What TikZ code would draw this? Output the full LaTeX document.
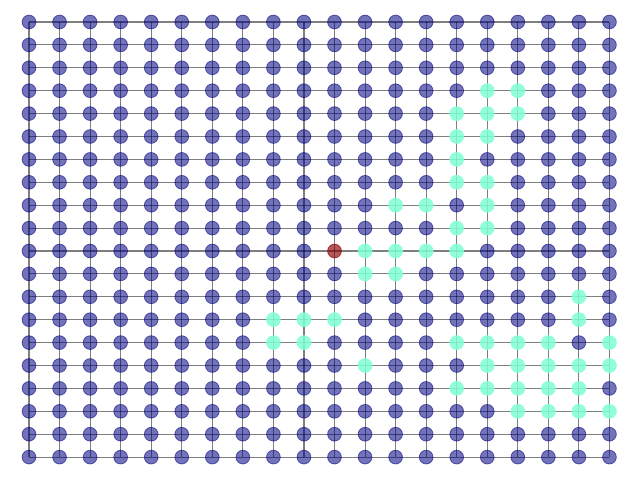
\documentclass[tikz,border=0pt]{standalone}
\begin{document}
\begin{tikzpicture}[x=1pt,y=-1pt,
  edge/.style={draw=black, draw opacity=0.5, line width=1.1pt},
  vtx/.style={circle, inner sep=0pt, minimum size=13.8pt, line width=0.8pt},
  vblue/.style={vtx, fill={rgb,255:red,0;green,0;blue,128}, fill opacity=0.55, draw={rgb,255:red,0;green,0;blue,128}, draw opacity=0.55},
  vcyan/.style={vtx, fill={rgb,255:red,127;green,255;blue,212}, fill opacity=0.85, draw={rgb,255:red,127;green,255;blue,212}, draw opacity=0.85},
  vred/.style={vtx, fill={rgb,255:red,139;green,0;blue,0}, fill opacity=0.65, draw={rgb,255:red,139;green,0;blue,0}, draw opacity=0.65}]
\useasboundingbox (0,0) rectangle (640,480);
\foreach \i in {0,...,19}{
  \foreach \j in {0,...,19}{
    \coordinate (c-\i-\j) at ({29+30.55*\i},{22+22.9*\j});
  }
}
\foreach \i in {0,...,19}{
  \foreach \j in {0,...,18}{
    \pgfmathtruncatemacro\k{\j+1}
    \draw[edge] (c-\i-\j) -- (c-\i-\k);
    \draw[edge] (c-\j-\i) -- (c-\k-\i);
  }
}
\foreach \p in {15-3,16-3,14-4,15-4,16-4,14-5,15-5,14-6,14-7,15-7,12-8,13-8,15-8,14-9,15-9,11-10,12-10,13-10,14-10,11-11,12-11,18-12,8-13,9-13,10-13,18-13,8-14,9-14,14-14,15-14,16-14,17-14,19-14,11-15,15-15,16-15,17-15,18-15,19-15,14-16,15-16,16-16,17-16,18-16,16-17,17-17,18-17,19-17}{
  \expandafter\gdef\csname cy-\p\endcsname{}
}
\foreach \i in {0,...,19}{
  \foreach \j in {0,...,19}{
    \ifnum\i=10 \ifnum\j=10 \gdef\vst{vred}\else\gdef\vst{vblue}\fi\else\gdef\vst{vblue}\fi
    \ifcsname cy-\i-\j\endcsname \gdef\vst{vcyan}\fi
    \node[\vst] (n-\i-\j) at (c-\i-\j) {};
  }
}
\end{tikzpicture}
\end{document}
